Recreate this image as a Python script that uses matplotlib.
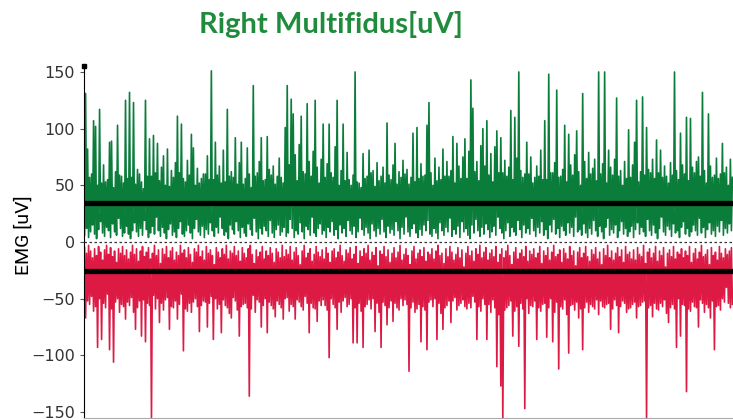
import matplotlib
matplotlib.use('Agg')
import matplotlib.pyplot as plt
import numpy as np

# rectified EMG trace, ~2px per sample
# each sample: a peak value and the trough the trace falls back to
green_peak = [131, 82, 57, 60, 107, 102, 50, 117, 52, 68, 53, 55, 88, 89, 48, 62, 103, 59, 58, 52,
              125, 56, 132, 57, 123, 51, 64, 60, 53, 47, 125, 58, 91, 58, 94, 61, 87, 54, 66, 76,
              50, 82, 49, 63, 57, 70, 111, 61, 104, 56, 53, 72, 59, 95, 83, 50, 65, 52, 56, 60,
              60, 76, 55, 151, 55, 88, 59, 67, 52, 81, 53, 117, 58, 62, 57, 92, 51, 70, 88, 51,
              56, 83, 60, 48, 138, 58, 61, 71, 92, 54, 55, 93, 64, 59, 67, 51, 58, 74, 57, 52,
              101, 138, 68, 126, 113, 77, 54, 86, 111, 62, 60, 122, 71, 58, 80, 125, 66, 52, 73, 104,
              57, 69, 104, 61, 57, 84, 125, 50, 63, 104, 54, 79, 55, 50, 59, 150, 53, 52, 48, 78,
              56, 58, 81, 61, 63, 49, 70, 54, 58, 66, 52, 105, 59, 55, 68, 87, 51, 62, 57, 72,
              60, 64, 51, 57, 96, 53, 101, 56, 69, 58, 59, 103, 123, 61, 50, 74, 54, 66, 55, 82,
              58, 71, 58, 63, 93, 52, 87, 67, 56, 75, 91, 56, 80, 143, 118, 62, 71, 54, 85, 100,
              67, 107, 59, 78, 53, 84, 98, 61, 92, 61, 72, 58, 66, 116, 55, 110, 74, 150, 63, 57,
              60, 88, 60, 75, 52, 57, 67, 58, 81, 55, 107, 55, 148, 61, 61, 70, 134, 57, 58, 64,
              103, 53, 95, 68, 59, 77, 98, 62, 50, 131, 71, 56, 79, 60, 65, 73, 54, 150, 60, 69,
              150, 52, 81, 66, 59, 73, 127, 58, 63, 50, 71, 56, 99, 57, 68, 88, 125, 53, 62, 128,
              59, 101, 64, 61, 73, 56, 90, 61, 81, 57, 67, 58, 52, 70, 59, 150, 63, 55, 96, 68,
              60, 110, 54, 109, 66, 61, 71, 75, 58, 132, 63, 52, 113, 67, 57, 59, 74, 56, 60, 87,
              61, 66, 50, 73, 57]

green_low = [6, 12, 4, 9, 15, 7, 3, 11, 18, 8, 5, 13, 10, 4, 16, 9, 6, 21, 12, 5, 8, 14, 7, 3, 10,
             17, 9, 5, 12, 6, 19, 11, 4, 8, 14, 7, 22, 10, 5, 13, 8, 3, 11, 16, 6, 9, 4, 12, 18, 7,
             5, 10, 15, 8, 3, 12, 20, 9, 6, 14, 4, 11, 7, 17, 10, 5, 13, 8, 22, 12, 6, 9, 3, 15, 11,
             7, 18, 10, 4, 13, 8, 5, 16, 11, 6, 21, 9, 3, 12, 7, 14, 10, 5, 19, 8, 4, 11, 15, 6, 9,
             13, 5, 8, 20, 12, 4, 10, 7, 17, 9, 3, 14, 11, 6, 22, 8, 5, 12, 16, 7, 10, 4, 13, 9, 18,
             6, 11, 3, 15, 8, 12, 5, 19, 10, 7, 14, 4, 9, 21, 11, 6, 13, 8, 3, 16, 10, 5, 12, 7, 20,
             9, 4, 14, 8, 11, 6, 18, 10, 3, 13, 7, 22, 9, 5, 12, 16, 8, 4, 11, 6, 15, 10, 19, 7, 5,
             12, 8, 3, 17, 10, 6, 13, 9, 21, 5, 11, 7, 14, 4, 18, 9, 12, 6, 3, 15, 8, 20, 10, 5, 13,
             7, 16, 11, 4, 9, 14, 6, 22, 12, 8, 3, 10, 17, 5, 13, 9, 6, 19, 11, 4, 15, 8, 12, 7, 21,
             10, 5, 13, 8, 18, 6, 11, 3, 15, 9, 20, 7, 12, 4, 14, 10, 6, 17, 8, 13, 5, 22, 9, 11, 6,
             16, 8, 4, 12, 7, 19, 10, 5, 14, 9, 3, 13, 21, 6, 11, 8, 15, 4, 10, 18, 7, 12, 5, 9, 14,
             4, 11, 17, 7, 13, 9, 5, 20, 10, 6, 15, 8, 3, 12, 22, 9, 6, 14, 11, 5, 16, 8, 10, 4, 13,
             18, 7, 12, 5, 9, 15, 10, 6, 21, 8, 13, 4, 11, 17, 7, 10, 5, 14, 9, 19, 6, 12, 8, 16, 10]

red_peak = [-67, -52, -55, -48, -61, -57, -93, -50, -86, -54, -58, -46, -95, -59, -106, -53, -50, -62, -55, -57,
            -68, -53, -56, -49, -62, -77, -58, -52, -83, -51, -88, -54, -56, -155, -47, -59, -50, -71, -54, -60,
            -51, -49, -77, -57, -58, -52, -68, -55, -46, -96, -59, -61, -54, -62, -53, -50, -57, -79, -56, -52,
            -53, -75, -54, -48, -86, -50, -59, -55, -80, -51, -56, -58, -63, -67, -49, -52, -60, -83, -57, -55,
            -54, -58, -136, -59, -47, -62, -51, -53, -75, -56, -50, -80, -53, -56, -59, -66, -52, -55, -58, -68,
            -50, -49, -61, -55, -57, -68, -51, -53, -57, -60, -48, -54, -80, -54, -58, -59, -70, -52, -56, -51,
            -56, -60, -102, -50, -55, -58, -77, -53, -62, -52, -49, -57, -55, -50, -89, -58, -89, -54, -61, -93,
            -57, -55, -51, -59, -50, -79, -54, -62, -93, -53, -56, -73, -58, -52, -70, -54, -58, -60, -50, -56,
            -51, -55, -114, -58, -53, -62, -59, -55, -88, -57, -60, -95, -53, -51, -57, -50, -86, -54, -63, -77,
            -58, -56, -52, -71, -52, -49, -60, -56, -54, -51, -57, -59, -54, -58, -48, -53, -86, -57, -61, -50,
            -55, -86, -55, -62, -51, -58, -110, -64, -127, -155, -60, -58, -56, -52, -83, -61, -57, -92, -54, -59,
            -147, -50, -63, -56, -57, -52, -86, -58, -61, -55, -54, -84, -58, -50, -88, -62, -53, -112, -57, -59,
            -51, -64, -98, -56, -55, -60, -53, -67, -59, -95, -58, -53, -62, -55, -57, -59, -51, -64, -52, -57,
            -58, -55, -54, -77, -59, -51, -56, -80, -57, -52, -54, -62, -59, -58, -55, -53, -67, -57, -56, -53,
            -52, -155, -58, -56, -66, -54, -59, -60, -54, -57, -51, -63, -71, -58, -55, -59, -93, -50, -83, -55,
            -56, -132, -59, -61, -53, -57, -58, -75, -51, -54, -62, -55, -58, -67, -52, -95, -57, -56, -60, -50,
            -53, -40, -54, -58, -55]

red_low = [-5, -10, -3, -8, -14, -6, -12, -4, -9, -16, -7, -3, -11, -5, -13, -8, -18, -6, -10, -4, -12, -7, -15, -9, -3,
           -11, -6, -17, -8, -4, -13, -9, -5, -15, -10, -3, -12, -7, -19, -6, -11, -4, -14, -8, -5, -16, -9, -12, -3, -10,
           -7, -14, -5, -11, -18, -6, -9, -3, -13, -8, -16, -4, -10, -7, -12, -20, -5, -9, -14, -6, -11, -3, -15, -8, -10,
           -4, -12, -8, -17, -5, -10, -14, -6, -3, -11, -19, -7, -13, -9, -4, -15, -8, -12, -5, -10, -18, -6, -9, -14, -3,
           -13, -7, -11, -4, -16, -9, -5, -12, -20, -8, -3, -14, -10, -6, -17, -11, -4, -9, -13, -7, -15, -5, -10, -18, -8,
           -6, -14, -9, -3, -12, -17, -7, -10, -5, -15, -11, -4, -19, -8, -13, -6, -10, -3, -16, -9, -12, -5, -21, -8, -11,
           -4, -13, -7, -18, -10, -5, -14, -9, -3, -16, -11, -6, -12, -20, -8, -4, -15, -10, -7, -13, -5, -17, -9, -11, -6,
           -15, -8, -3, -12, -10, -19, -6, -13, -4, -9, -16, -11, -5, -14, -7, -22, -10, -4, -12, -8, -17, -6, -11, -3, -14,
           -9, -5, -16, -10, -7, -13, -4, -18, -11, -6, -14, -8, -3, -12, -20, -9, -5, -15, -10, -7, -13, -4, -17, -8, -11,
           -6, -14, -10, -4, -19, -8, -12, -5, -16, -9, -3, -13, -11, -7, -18, -6, -10, -15, -4, -12, -8, -21, -9, -5, -14,
           -10, -4, -13, -17, -7, -11, -5, -15, -9, -20, -6, -12, -3, -14, -8, -16, -10, -5, -13, -7, -18, -4, -11, -9, -15,
           -7, -16, -5, -11, -13, -3, -19, -9, -6, -14, -10, -4, -17, -8, -12, -5, -22, -10, -7, -13, -4, -15, -9, -11, -6,
           -14, -8, -12, -4, -18, -10, -6, -15, -9, -3, -13, -11, -7, -20, -5, -12, -9, -16, -4, -10, -14, -6, -11, -8, -5]

green_mean = 34
red_mean = -25.5
yticks = [-150, -100, -50, 0, 50, 100, 150]

green = '#0b7d3b'
red = '#dc1a44'


def trace(low, peak):
    # alternate trough / peak so the line zig-zags like the raw trace
    y = np.column_stack([low, peak]).ravel()
    t = np.arange(len(y)) / 2.0
    return t, y


fig = plt.figure(figsize=(7.33, 4.2), dpi=100)
ax = fig.add_axes([84/733, 2/420, 649/733, 352/420])

tg, yg = trace(green_low, green_peak)
tr, yr = trace(red_low, red_peak)
ax.plot(tg, yg, color=green, lw=1.2)
ax.plot(tr, yr, color=red, lw=1.2)

ax.axhline(0, color='#333333', lw=0.9, ls=(0, (2, 2)), zorder=3)
ax.axhline(green_mean, color='black', lw=3.8, zorder=4)
ax.axhline(red_mean, color='black', lw=3.8, zorder=4)

ax.set_xlim(-0.3, len(green_peak) - 0.2)
ax.set_ylim(-155.3, 155.3)
ax.set_yticks(yticks)
ax.set_yticklabels([str(t).replace('-', '\u2212') for t in yticks])
ax.set_xticks([])
ax.tick_params(axis='y', labelsize=11.5, labelcolor='#333333', length=3, color='#555555')
for s in ['top', 'right']:
    ax.spines[s].set_visible(False)
ax.spines['left'].set_color('black')
ax.spines['bottom'].set_color('#aaaaaa')
# small block capping the top of the y axis
ax.plot([0], [1], transform=ax.transAxes, marker='s', ms=3.5, color='black', clip_on=False, zorder=5)

fig.text(24/733, 1 - 235/420, 'EMG [uV]', rotation=90, ha='center', va='center',
         fontsize=14, family='Roboto', color='black')
fig.text(331/733, 1 - 24/420, 'Right Multifidus[uV]', ha='center', va='center',
         fontsize=21, fontweight='bold', color='#1e8c3c', family='Lato')

plt.savefig('out.png', dpi=100)
